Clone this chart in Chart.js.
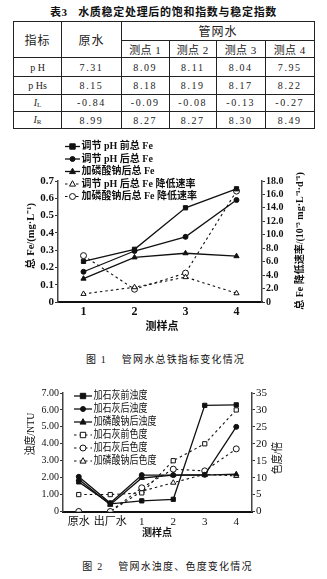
<!DOCTYPE html>
<html>
<head>
<meta charset="utf-8">
<script src="https://cdn.jsdelivr.net/npm/chart.js@4.4.0/dist/chart.umd.min.js"></script>
<style>
  html, body { margin: 0; padding: 0; background: #fff; }
  body {
    width: 327px; height: 579px; position: relative; overflow: hidden;
    font-family: "Liberation Serif", "Noto Sans CJK SC", serif; color: #111;
  }
  .cap { position: absolute; left: 0; width: 327px; text-align: center; white-space: pre; }
  #t3 { top: 3px; font-size: 11px; font-weight: bold; letter-spacing: 0.7px; }
  #c1cap { top: 351px; left: 2px; font-size: 10px; letter-spacing: 1.2px; }
  #c2cap { top: 558px; left: 4px; font-size: 10px; letter-spacing: 1.2px; }
  table {
    position: absolute; left: 13px; top: 21px; width: 301px;
    border-collapse: collapse; table-layout: fixed;
    border-top: 1.5px solid #111; border-bottom: 1.5px solid #111;
  }
  td { border: 1px solid #222; text-align: center; padding: 0; font-size: 10px; color: #222; }
  td.h { font-size: 12px; letter-spacing: 1px; }
  td.m { font-size: 11px; letter-spacing: 0.5px; }
  td.v { letter-spacing: 1.6px; }
  i { font-style: italic; }
  sub { font-size: 7px; vertical-align: -1px; }
  canvas { position: absolute; left: 0; }
  #c1 { top: 135px; }
  #c2 { top: 380px; }
</style>
</head>
<body>
<div class="cap" id="t3">表3   水质稳定处理后的饱和指数与稳定指数</div>
<table>
  <colgroup>
    <col style="width:48px"><col style="width:60px"><col style="width:47.5px">
    <col style="width:47.5px"><col style="width:48.5px"><col style="width:49.5px">
  </colgroup>
  <tr style="height:18px"><td class="h" rowspan="2">指标</td><td class="h" rowspan="2">原水</td><td class="h" colspan="4">管网水</td></tr>
  <tr style="height:17px"><td class="m">测点 1</td><td class="m">测点 2</td><td class="m">测点 3</td><td class="m">测点 4</td></tr>
  <tr style="height:19px"><td>p H</td><td class="v">7.31</td><td class="v">8.09</td><td class="v">8.11</td><td class="v">8.04</td><td class="v">7.95</td></tr>
  <tr style="height:17.5px"><td>p Hs</td><td class="v">8.15</td><td class="v">8.18</td><td class="v">8.19</td><td class="v">8.17</td><td class="v">8.22</td></tr>
  <tr style="height:17.5px"><td><i>I</i><sub>L</sub></td><td class="v">-0.84</td><td class="v">-0.09</td><td class="v">-0.08</td><td class="v">-0.13</td><td class="v">-0.27</td></tr>
  <tr style="height:17px"><td><i>I</i><sub>R</sub></td><td class="v">8.99</td><td class="v">8.27</td><td class="v">8.27</td><td class="v">8.30</td><td class="v">8.49</td></tr>
</table>

<canvas id="c1" width="327" height="205"></canvas>
<div class="cap" id="c1cap">图 1    管网水总铁指标变化情况</div>
<canvas id="c2" width="327" height="165"></canvas>
<div class="cap" id="c2cap">图 2    管网水浊度、色度变化情况</div>

<script>
// Figure 1: total Fe (left axis, mg/L) and Fe reduction rate (right axis)
const fePoints = ['1', '2', '3', '4'];
const feBeforePH = [0.235, 0.305, 0.545, 0.655];
const feAfterPH = [0.175, 0.295, 0.377, 0.59];
const feAfterPhosphate = [0.135, 0.258, 0.282, 0.265];
const rateAfterPH = [1.2, 2.2, 3.7, 1.3];
const rateAfterPhosphate = [6.9, 1.9, 4.3, 16.5];

// Figure 2: turbidity (left axis, NTU) and colour (right axis)
const turbPoints = ['原水', '出厂水', '1', '2', '3', '4'];
const turbBeforeLime = [1.75, 0.45, 0.63, 0.72, 6.27, 6.3];
const turbAfterLime = [2.05, 0.5, 2.15, 2.15, 2.17, 5.0];
const turbAfterPhosphate = [1.9, 0.4, 1.98, 2.15, 2.15, 2.2];
const colorBeforeLime = [5, 5, 5.5, 15, 20, 30];
const colorAfterLime = [0, 0, 7, 12.5, 12, 18.5];
const colorAfterPhosphate = [0, 0, 6, 8.5, 11, 10.5];

const SERIF = '"Liberation Serif", "Noto Sans CJK SC", serif';
Chart.defaults.font.family = SERIF;
Chart.defaults.color = '#111';

function solid(label, data, style, axis) {
  return {
    label, data, yAxisID: axis,
    borderColor: '#111', borderWidth: 1.3,
    pointStyle: style, pointRadius: style === 'circle' ? 2.5 : 3,
    pointBackgroundColor: '#111', pointBorderColor: '#111', pointBorderWidth: 1
  };
}
function dashed(label, data, style, axis) {
  return {
    label, data, yAxisID: axis,
    borderColor: '#111', borderWidth: 1.1, borderDash: [2.5, 3],
    pointStyle: style, pointRadius: 3,
    pointBackgroundColor: '#fff', pointBorderColor: '#111', pointBorderWidth: 1
  };
}

function drawText(ctx, str, x, y, font, align, sx, rot) {
  ctx.save();
  ctx.translate(x, y);
  if (rot) ctx.rotate(rot);
  ctx.scale(sx || 1, 1);
  ctx.font = font;
  ctx.textAlign = align;
  ctx.textBaseline = 'middle';
  ctx.fillStyle = '#111';
  ctx.fillText(str, 0, 0);
  ctx.restore();
}

function drawMarker(ctx, style, x, y, r, fill, stroke) {
  ctx.beginPath();
  if (style === 'rect') ctx.rect(x - r * 0.9, y - r * 0.9, r * 1.8, r * 1.8);
  else if (style === 'triangle') {
    ctx.moveTo(x, y - r * 1.1);
    ctx.lineTo(x + r, y + r * 0.7);
    ctx.lineTo(x - r, y + r * 0.7);
    ctx.closePath();
  } else ctx.arc(x, y, r, 0, Math.PI * 2);
  ctx.fillStyle = fill; ctx.fill();
  ctx.lineWidth = 1; ctx.strokeStyle = stroke; ctx.stroke();
}

// legend, axis titles: positions given in page pixels, shifted by the canvas top
const annot = {
  id: 'annot',
  afterDraw(chart, args, o) {
    const ctx = chart.ctx;
    const top = o.top;
    chart.data.datasets.forEach((ds, i) => {
      const y = o.ly + i * o.lstep - top;
      ctx.save();
      ctx.strokeStyle = ds.borderColor;
      ctx.lineWidth = ds.borderWidth;
      ctx.setLineDash(ds.borderDash || []);
      ctx.beginPath();
      ctx.moveTo(o.lx, y);
      ctx.lineTo(o.lx + o.llen, y);
      ctx.stroke();
      ctx.setLineDash([]);
      drawMarker(ctx, ds.pointStyle, o.lx + o.llen / 2, y, ds.pointRadius,
        ds.pointBackgroundColor, ds.pointBorderColor);
      ctx.restore();
      drawText(ctx, ds.label, o.lx + o.llen + 1.5, y, o.lfont, 'left', o.lsx);
    });
    o.titles.forEach(t => {
      drawText(ctx, t.text, t.x, t.y - top, t.font, 'center', t.sx || 1, t.rot ? -Math.PI / 2 : 0);
    });
  }
};

function yAxis(pos, min, max, step, dec, size, width, bold) {
  return {
    position: pos, min, max,
    ticks: {
      stepSize: step, autoSkip: false,
      callback: v => (v === 0 ? '0' : Number(v).toFixed(dec)),
      font: { size, weight: bold ? 'bold' : 'normal' },
      padding: 1
    },
    grid: { drawOnChartArea: false, tickLength: 3, color: '#333', lineWidth: 1 },
    border: { color: '#444', width: 1.5 },
    afterFit: s => { s.width = width; }
  };
}

function xAxis(size, bold, pad, height) {
  return {
    offset: true,
    ticks: {
      font: { size, weight: bold ? 'bold' : 'normal' }, padding: pad,
      autoSkip: false, maxRotation: 0, minRotation: 0
    },
    grid: { display: true, drawOnChartArea: false, drawTicks: false },
    border: { color: '#111', width: 2 },
    afterFit: s => { s.height = height; }
  };
}

new Chart(document.getElementById('c1'), {
  type: 'line',
  data: {
    labels: fePoints,
    datasets: [
      solid('调节 pH 前总 Fe', feBeforePH, 'rect', 'y'),
      solid('调节 pH 后总 Fe', feAfterPH, 'circle', 'y'),
      solid('加磷酸钠后总 Fe', feAfterPhosphate, 'triangle', 'y'),
      dashed('调节 pH 后总 Fe 降低速率', rateAfterPH, 'triangle', 'y1'),
      dashed('加磷酸钠后总 Fe 降低速率', rateAfterPhosphate, 'circle', 'y1')
    ]
  },
  options: {
    responsive: false, animation: false,
    layout: { padding: { top: 46, left: 0, right: 0, bottom: 0 } },
    plugins: {
      legend: { display: false }, tooltip: { enabled: false },
      annot: {
        top: 135, lx: 65, llen: 15, ly: 146.5, lstep: 12.5,
        lfont: 'bold 10px ' + SERIF, lsx: 1,
        titles: [
          { text: '总 Fe/(mg·L⁻¹)', x: 31, y: 236, font: 'bold 10.5px ' + SERIF, rot: true },
          { text: '总 Fe 降低速率/(10⁻³ mg·L⁻¹·d⁻¹)', x: 300, y: 241, font: 'bold 10px ' + SERIF, rot: true },
          { text: '测样点', x: 162, y: 327, font: 'bold 11px ' + SERIF }
        ]
      }
    },
    scales: {
      x: xAxis(12, true, 3, 38),
      y: yAxis('left', 0, 0.7, 0.1, 1, 11, 58, true),
      y1: yAxis('right', 0, 18, 2, 1, 10, 65, true)
    }
  },
  plugins: [annot]
});

new Chart(document.getElementById('c2'), {
  type: 'line',
  data: {
    labels: turbPoints,
    datasets: [
      solid('加石灰前浊度', turbBeforeLime, 'rect', 'y'),
      solid('加石灰后浊度', turbAfterLime, 'circle', 'y'),
      solid('加磷酸钠后浊度', turbAfterPhosphate, 'triangle', 'y'),
      dashed('加石灰前色度', colorBeforeLime, 'rect', 'y1'),
      dashed('加石灰后色度', colorAfterLime, 'circle', 'y1'),
      dashed('加磷酸钠后色度', colorAfterPhosphate, 'triangle', 'y1')
    ]
  },
  options: {
    responsive: false, animation: false,
    layout: { padding: { top: 13, left: 0, right: 0, bottom: 0 } },
    plugins: {
      legend: { display: false }, tooltip: { enabled: false },
      annot: {
        top: 380, lx: 74, llen: 18, ly: 396, lstep: 13,
        lfont: '11px ' + SERIF, lsx: 0.82,
        titles: [
          { text: '浊度/NTU', x: 31, y: 434, font: '11px ' + SERIF, sx: 0.9, rot: true },
          { text: '色度/倍', x: 278, y: 458, font: '11px ' + SERIF, sx: 0.9, rot: true },
          { text: '测样点', x: 157, y: 533, font: 'bold 10px ' + SERIF }
        ]
      }
    },
    scales: {
      x: xAxis(11, false, 4, 33.5),
      y: yAxis('left', 0, 7, 1, 2, 10, 63, false),
      y1: yAxis('right', 0, 35, 5, 0, 11, 75, false)
    }
  },
  plugins: [annot]
});
</script>
</body>
</html>
